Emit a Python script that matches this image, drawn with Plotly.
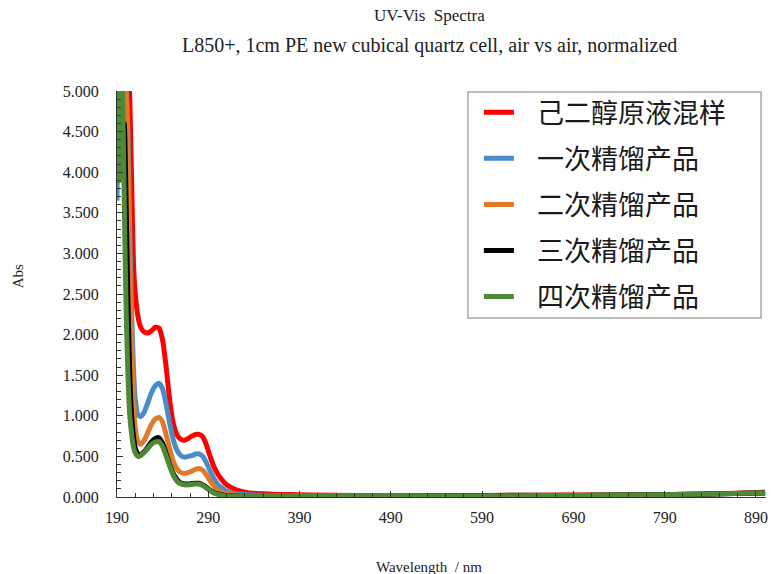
import plotly.graph_objects as go

wavelength = [190, 191, 192, 193, 194, 196, 198, 200, 202, 204, 206, 208, 210, 213, 216, 220, 224, 228, 232,
              236, 240, 244, 248, 252, 256, 260, 264, 268, 272, 276, 280, 284, 288, 292, 296, 300, 305,
              310, 320, 330, 340, 360, 380, 400, 450, 500, 600, 700, 800, 850, 900]

red = [5.6, 5.6, 5.6, 5.6, 5.6, 5.6, 5.6, 5.6, 5.4, 4.9, 3.9, 2.9, 2.5, 2.22, 2.09, 2.03, 2.02, 2.05, 2.09,
       2.08, 1.93, 1.58, 1.17, 0.89, 0.76, 0.71, 0.70, 0.72, 0.75, 0.77, 0.77, 0.74, 0.64, 0.50, 0.38, 0.29, 0.21,
       0.15, 0.09, 0.06, 0.045, 0.035, 0.03, 0.025, 0.02, 0.02, 0.02, 0.025, 0.03, 0.04, 0.06]

blue = [3.65, 4.6, 5.5, 5.5, 5.4, 5.3, 5.4, 5.1, 4.5, 3.3, 2.3, 1.6, 1.2, 1.01, 0.99, 1.05, 1.17, 1.29, 1.37,
        1.40, 1.33, 1.13, 0.89, 0.69, 0.57, 0.51, 0.49, 0.50, 0.51, 0.53, 0.53, 0.50, 0.42, 0.32, 0.23, 0.16, 0.11,
        0.07, 0.04, 0.03, 0.025, 0.02, 0.02, 0.02, 0.02, 0.02, 0.02, 0.025, 0.03, 0.04, 0.05]

orange = [5.5, 5.5, 5.5, 5.5, 5.4, 5.3, 5.4, 5.0, 4.2, 2.9, 1.9, 1.2, 0.85, 0.68, 0.65, 0.70, 0.80, 0.90, 0.96,
          0.98, 0.92, 0.76, 0.58, 0.43, 0.34, 0.30, 0.29, 0.30, 0.32, 0.34, 0.35, 0.33, 0.27, 0.20, 0.14, 0.09, 0.06,
          0.04, 0.025, 0.02, 0.02, 0.02, 0.02, 0.02, 0.02, 0.02, 0.02, 0.025, 0.03, 0.04, 0.05]

black = [5.5, 4.5, 3.9, 4.0, 4.28, 4.1, 4.6, 3.6, 2.4, 1.5, 1.0, 0.75, 0.6, 0.53, 0.52, 0.56, 0.62, 0.68, 0.72,
         0.73, 0.66, 0.53, 0.39, 0.28, 0.21, 0.17, 0.16, 0.16, 0.165, 0.17, 0.17, 0.15, 0.12, 0.085, 0.055, 0.04, 0.025,
         0.018, 0.012, 0.01, 0.01, 0.01, 0.01, 0.01, 0.01, 0.01, 0.015, 0.02, 0.03, 0.04, 0.05]

green = [5.5, 4.6, 3.9, 4.9, 5.5, 5.0, 3.6, 2.3, 1.5, 1.0, 0.78, 0.62, 0.54, 0.50, 0.51, 0.55, 0.60, 0.65, 0.68,
         0.68, 0.62, 0.50, 0.37, 0.26, 0.19, 0.16, 0.15, 0.15, 0.155, 0.16, 0.16, 0.14, 0.11, 0.08, 0.05, 0.035, 0.02,
         0.015, 0.01, 0.01, 0.01, 0.01, 0.01, 0.01, 0.01, 0.01, 0.015, 0.02, 0.03, 0.04, 0.05]

series_names = ["己二醇原液混样", "一次精馏产品", "二次精馏产品", "三次精馏产品", "四次精馏产品"]
series_values = [red, blue, orange, black, green]
series_colors = ["#ff0000", "#4a8cc8", "#e07a2a", "#000000", "#4e8a35"]

x_ticks = [190, 290, 390, 490, 590, 690, 790, 890]

fig = go.Figure()
for i, (name, vals, col) in enumerate(zip(series_names, series_values, series_colors)):
    fig.add_trace(go.Scatter(
        x=wavelength, y=vals, name="\u00a0\u00a0\u00a0" + name, mode="lines",
        line=dict(color=col, width=5, shape="spline", smoothing=0.6),
        legendgroup=f"g{i}",
    ))

serif = "Liberation Serif, Times New Roman, serif"

# plot area in pixels: x 117..768, y 91..497
fig.update_layout(
    width=771, height=574,
    margin=dict(l=117, r=3, t=91, b=77),
    paper_bgcolor="white", plot_bgcolor="white",
    showlegend=True,
    legend=dict(
        x=(480 - 117) / 651, y=1.007, xanchor="left", yanchor="top",
        borderwidth=0, bgcolor="rgba(0,0,0,0)",
        font=dict(family="Noto Sans CJK SC", size=27, color="#1a1a1a"),
        tracegroupgap=8, itemwidth=30,
    ),
    shapes=[dict(type="rect", xref="paper", yref="paper",
                 x0=(469 - 117) / 651, x1=(763 - 117) / 651,
                 y0=(497 - 318) / 406, y1=(497 - 92) / 406,
                 line=dict(color="#a8a8a8", width=1.5), fillcolor="white", layer="above")],
    xaxis=dict(
        range=[190, 901], tickvals=x_ticks, ticktext=[str(v) for v in x_ticks],
        ticks="inside", ticklen=6, tickcolor="#333", showgrid=False, zeroline=False,
        showline=True, linecolor="#333", linewidth=1, ticklabelstandoff=6,
        tickfont=dict(family=serif, size=16, color="#222"),
        minor=dict(dtick=20, tick0=190, ticks="inside", ticklen=4, tickcolor="#333"),
    ),
    yaxis=dict(
        range=[0, 5], dtick=0.5, tickformat=".3f",
        ticks="inside", ticklen=6, tickcolor="#333", showgrid=False, zeroline=False,
        showline=True, linecolor="#333", linewidth=1, ticklabelstandoff=14,
        tickfont=dict(family=serif, size=16, color="#222"),
        minor=dict(dtick=0.1, ticks="inside", ticklen=4, tickcolor="#333"),
    ),
    annotations=[
        dict(text="UV-Vis  Spectra", x=0.481, y=1.0, yshift=91 - 15, xref="paper", yref="paper",
             showarrow=False, xanchor="center", yanchor="middle",
             font=dict(family=serif, size=17, color="#222")),
        dict(text="L850+, 1cm PE new cubical quartz cell, air vs air, normalized", x=0.481, y=1.0,
             yshift=91 - 45, xref="paper", yref="paper", showarrow=False, xanchor="center", yanchor="middle",
             font=dict(family=serif, size=20, color="#222")),
        dict(text="Abs", x=(18 - 117) / 651, y=(497 - 276) / 406, xref="paper", yref="paper",
             showarrow=False, textangle=-90, xanchor="center", yanchor="middle",
             font=dict(family=serif, size=15, color="#222")),
        dict(text="Wavelength  / nm", x=0.481, y=(497 - 567) / 406, xref="paper", yref="paper",
             showarrow=False, xanchor="center", yanchor="middle",
             font=dict(family=serif, size=15, color="#222")),
    ],
)

fig.write_html("out.html")
